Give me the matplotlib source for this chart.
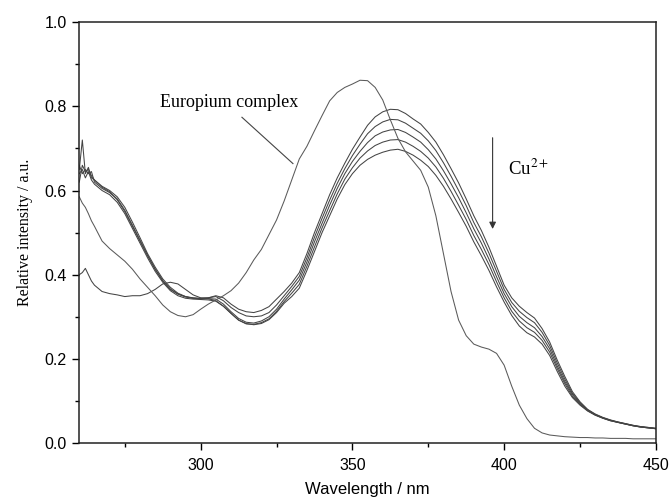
import numpy as np
import matplotlib
matplotlib.use('Agg')
import matplotlib.pyplot as plt

wavelength = np.concatenate([[260, 261, 262, 263, 264, 265], np.arange(267.5, 452.5, 2.5)])

europium = [0.585, 0.57, 0.56, 0.545, 0.528, 0.515,
            0.48, 0.462, 0.447, 0.432, 0.413, 0.39, 0.37, 0.35, 0.328, 0.312,
            0.303, 0.300, 0.305, 0.318, 0.33, 0.34, 0.35, 0.362, 0.38, 0.405,
            0.435, 0.46, 0.495, 0.53, 0.575, 0.625, 0.675, 0.705, 0.742, 0.778,
            0.813, 0.833, 0.845, 0.853, 0.862, 0.861, 0.845, 0.815, 0.768, 0.724,
            0.692, 0.67, 0.648, 0.608, 0.54, 0.45, 0.36, 0.292, 0.255, 0.235,
            0.228, 0.223, 0.213, 0.185, 0.135, 0.09, 0.058, 0.035, 0.024, 0.019,
            0.017, 0.015, 0.014, 0.013, 0.013, 0.012, 0.012, 0.011, 0.011, 0.011,
            0.010, 0.010, 0.010, 0.010]

cu_1 = [0.40, 0.405, 0.415, 0.40, 0.385, 0.375,
        0.36, 0.355, 0.352, 0.348, 0.35, 0.35, 0.355, 0.365, 0.378, 0.382,
        0.378, 0.365, 0.352, 0.345, 0.345, 0.35, 0.345, 0.33, 0.318, 0.312,
        0.31, 0.315, 0.324, 0.342, 0.36, 0.38, 0.405, 0.45, 0.50, 0.545,
        0.59, 0.63, 0.665, 0.698, 0.727, 0.755, 0.775, 0.787, 0.793, 0.792,
        0.783, 0.77, 0.758, 0.738, 0.715, 0.685, 0.652, 0.618, 0.58, 0.54,
        0.505, 0.465, 0.42, 0.375, 0.345, 0.325, 0.31, 0.297, 0.272, 0.24,
        0.197, 0.158, 0.122, 0.098, 0.08, 0.069, 0.061, 0.055, 0.05, 0.046,
        0.042, 0.039, 0.037, 0.035]

cu_2 = [0.65, 0.72, 0.64, 0.655, 0.63, 0.625,
        0.61, 0.60, 0.585, 0.56, 0.525, 0.488, 0.45, 0.418, 0.39, 0.37,
        0.356, 0.348, 0.344, 0.343, 0.345, 0.348, 0.338, 0.322, 0.31, 0.302,
        0.30, 0.302, 0.31, 0.328, 0.35, 0.372, 0.396, 0.44, 0.489, 0.534,
        0.577, 0.617, 0.652, 0.683, 0.71, 0.735, 0.752, 0.763, 0.769, 0.768,
        0.76, 0.748, 0.736, 0.718, 0.695, 0.666, 0.634, 0.60, 0.564, 0.524,
        0.49, 0.451, 0.408, 0.365, 0.334, 0.313, 0.298, 0.286, 0.263, 0.232,
        0.19, 0.152, 0.118, 0.096, 0.079, 0.068, 0.06, 0.054, 0.05, 0.046,
        0.042, 0.039, 0.037, 0.035]

cu_3 = [0.66, 0.64, 0.65, 0.64, 0.645, 0.62,
        0.605, 0.595, 0.58, 0.553, 0.518, 0.482, 0.446, 0.413, 0.386, 0.366,
        0.354, 0.347, 0.344, 0.343, 0.343, 0.342, 0.33, 0.312, 0.296, 0.287,
        0.285, 0.29, 0.30, 0.318, 0.342, 0.364, 0.387, 0.43, 0.478, 0.522,
        0.565, 0.605, 0.64, 0.669, 0.693, 0.714, 0.73, 0.739, 0.744, 0.745,
        0.738, 0.727, 0.715, 0.697, 0.675, 0.647, 0.616, 0.583, 0.547, 0.509,
        0.475, 0.437, 0.395, 0.355, 0.324, 0.301, 0.286, 0.274, 0.253, 0.224,
        0.183, 0.146, 0.115, 0.094, 0.078, 0.067, 0.06, 0.054, 0.049, 0.045,
        0.041, 0.038, 0.036, 0.034]

cu_4 = [0.64, 0.65, 0.63, 0.645, 0.625, 0.615,
        0.60, 0.59, 0.572, 0.545, 0.51, 0.475, 0.44, 0.408, 0.382, 0.362,
        0.35, 0.344, 0.342, 0.341, 0.34, 0.337, 0.325, 0.308, 0.292, 0.283,
        0.282, 0.286, 0.295, 0.313, 0.336, 0.356, 0.377, 0.42, 0.466, 0.511,
        0.552, 0.592, 0.627, 0.654, 0.677, 0.694, 0.707, 0.715, 0.72, 0.721,
        0.715, 0.705, 0.693, 0.677, 0.656, 0.629, 0.598, 0.565, 0.531, 0.493,
        0.46, 0.424, 0.383, 0.345, 0.313, 0.29, 0.274, 0.263, 0.244, 0.216,
        0.177, 0.141, 0.111, 0.092, 0.077, 0.067, 0.059, 0.053, 0.049, 0.045,
        0.041, 0.038, 0.036, 0.034]

cu_5 = [0.62, 0.66, 0.645, 0.65, 0.635, 0.625,
        0.608, 0.597, 0.578, 0.55, 0.515, 0.48, 0.445, 0.413, 0.385, 0.365,
        0.354, 0.348, 0.345, 0.344, 0.343, 0.338, 0.325, 0.308, 0.292, 0.284,
        0.281, 0.284, 0.293, 0.31, 0.332, 0.348, 0.368, 0.41, 0.455, 0.50,
        0.54, 0.58, 0.614, 0.64, 0.66, 0.674, 0.684, 0.691, 0.696, 0.698,
        0.693, 0.684, 0.672, 0.657, 0.636, 0.61, 0.58, 0.548, 0.515, 0.478,
        0.445, 0.41, 0.371, 0.335, 0.303, 0.278, 0.262, 0.252, 0.235, 0.208,
        0.17, 0.135, 0.108, 0.09, 0.076, 0.066, 0.059, 0.053, 0.049, 0.045,
        0.041, 0.038, 0.036, 0.034]

plt.rcParams['font.family'] = ['Liberation Sans', 'DejaVu Sans']
plt.rcParams['mathtext.fontset'] = 'stix'

fig = plt.figure(figsize=(6.72, 5.04), dpi=100)
ax = fig.add_axes([0.118, 0.121, 0.858, 0.835])

# titration curves (Cu2+ added step by step)
for cu in [cu_1, cu_2, cu_3, cu_4, cu_5]:
    ax.plot(wavelength, cu, color='#444444', lw=0.75)
ax.plot(wavelength, europium, color='#5a5a5a', lw=0.75)

ax.set_xlim(260, 450)
ax.set_ylim(0, 1.0)
ax.set_xticks([300, 350, 400, 450])
ax.set_xticks([275, 325, 375, 425], minor=True)
ax.set_yticks([0.0, 0.2, 0.4, 0.6, 0.8, 1.0])
ax.set_yticks([0.1, 0.3, 0.5, 0.7, 0.9], minor=True)
ax.tick_params(which='major', direction='out', length=5, width=1, labelsize=11.5, pad=4)
ax.tick_params(which='minor', direction='out', length=3, width=1)
ax.tick_params(axis='x', which='major', pad=6)
for s in ax.spines.values():
    s.set_linewidth(1.1)
    s.set_color('#222222')

ax.set_xlabel('Wavelength / nm', fontsize=12, labelpad=6)
ax.set_ylabel('Relative intensity / a.u.', fontsize=11.5, family='Liberation Serif', labelpad=8)

ax.text(286.6, 0.81, 'Europium complex', fontsize=13, family='Liberation Serif', va='center', ha='left')
ax.plot([313.6, 330.4], [0.774, 0.664], color='#444444', lw=0.8)

ax.annotate('', xy=(396.2, 0.502), xytext=(396.2, 0.732),
            arrowprops=dict(arrowstyle='-|>', color='#333333', lw=0.8, mutation_scale=10))
ax.text(401.4, 0.637, 'Cu$^{2+}$', fontsize=13.5, family='Liberation Serif', va='baseline', ha='left')

fig.savefig('out.png', dpi=100)
